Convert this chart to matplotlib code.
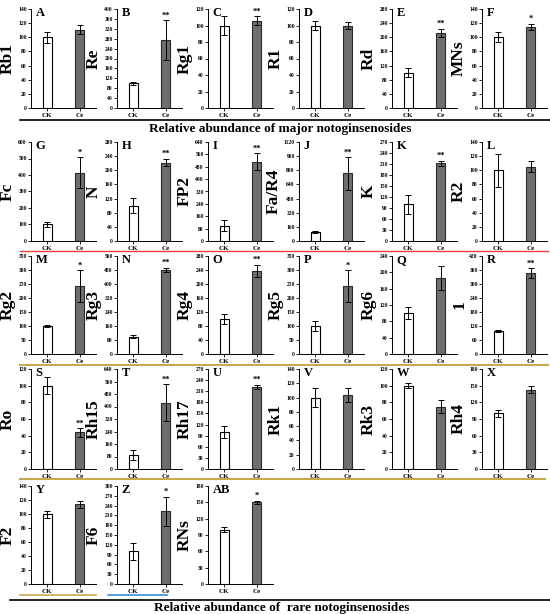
import matplotlib
matplotlib.use("Agg")
import matplotlib.pyplot as plt
from matplotlib.lines import Line2D
import numpy as np

plt.rcParams["font.family"] = ["Liberation Serif", "DejaVu Serif"]
plt.rcParams["font.weight"] = "bold"

# ── Data (relative abundance, CK = 100) ──────────────────────────────────────
panel_ids = ["A", "B", "C", "D", "E", "F",
             "G", "H", "I", "J", "K", "L",
             "M", "N", "O", "P", "Q", "R",
             "S", "T", "U", "V", "W", "X",
             "Y", "Z", "AB"]
compounds = ["Rb1", "Re", "Rg1", "R1", "Rd", "MNs",
             "Fc", "N", "FP2", "Fa/R4", "K", "R2",
             "Rg2", "Rg3", "Rg4", "Rg5", "Rg6", "1",
             "Ro", "Rh15", "Rh17", "Rk1", "Rk3", "Rh4",
             "F2", "F6", "RNs"]
groups = ["CK", "Ce"]
ck_mean = [100, 100, 100, 100, 100, 100,
           100, 100, 100, 100, 100, 100,
           100, 100, 100, 100, 100, 100,
           100, 92, 100, 100, 100, 100,
           100, 100, 100]
ck_err = [8, 7, 11, 6, 13, 7,
          15, 22, 36, 15, 26, 23,
          5, 10, 15, 17, 15, 5,
          10, 32, 15, 13, 3, 6,
          5, 25, 4]
ce_mean = [111, 275, 106, 100, 212, 115,
           415, 222, 512, 766, 212, 105,
           243, 480, 237, 243, 186, 347,
           44, 425, 222, 104, 75, 143,
           114, 222, 150]
ce_err = [6, 80, 5, 4, 12, 4,
          92, 10, 54, 184, 7, 8,
          57, 12, 18, 57, 30, 20,
          5, 118, 5, 10, 8, 7,
          5, 45, 3]
signif = ["", "**", "**", "", "**", "*",
          "*", "**", "**", "**", "**", "",
          "*", "**", "**", "*", "", "**",
          "**", "**", "**", "", "", "",
          "", "*", "*"]
y_max = [140, 400, 120, 120, 280, 140,
         600, 280, 640, 1120, 270, 140,
         350, 560, 280, 350, 240, 420,
         120, 640, 270, 140, 120, 180,
         140, 300, 180]
y_step = [20, 40, 20, 20, 40, 20,
          100, 40, 80, 160, 30, 20,
          50, 80, 40, 50, 40, 60,
          20, 80, 30, 20, 20, 30,
          20, 30, 30]

W, H = 550, 614
fig = plt.figure(figsize=(W / 100, H / 100), dpi=100)

col_left = [31, 117, 208, 299, 392, 482]
row_top = [9, 142, 256, 369, 486]
row_bottom = [108, 241, 354, 469, 584]
ax_w = 65


def px_axes(left, top, width, height):
    return fig.add_axes([left / W, 1 - (top + height) / H, width / W, height / H])


for i, name in enumerate(compounds):
    r, c = divmod(i, 6)
    ax = px_axes(col_left[c], row_top[r], ax_w, row_bottom[r] - row_top[r])
    x = np.arange(len(groups))
    ax.bar(x[0], ck_mean[i], 0.28, color="white", edgecolor="black", linewidth=0.8)
    ax.bar(x[1], ce_mean[i], 0.28, color="#6e6e6e", edgecolor="#2a2a2a", linewidth=0.8)
    ax.errorbar(x, [ck_mean[i], ce_mean[i]], yerr=[ck_err[i], ce_err[i]],
                fmt="none", ecolor="black", elinewidth=0.7, capsize=2.5, capthick=0.7)
    if signif[i]:
        ax.annotate(signif[i], (x[1], ce_mean[i] + ce_err[i]), xytext=(0, 0.5),
                    textcoords="offset points", ha="center", va="bottom",
                    fontsize=6, fontweight="bold")
    ax.set_xlim(-0.5, 1.5)
    ax.set_ylim(0, y_max[i])
    ax.set_yticks(np.arange(0, y_max[i] + 1, y_step[i]))
    ax.set_xticks(x)
    ax.set_xticklabels(groups, fontsize=5, fontweight="bold")
    ax.tick_params(axis="y", labelsize=4, length=2, width=0.6, pad=1)
    ax.tick_params(axis="x", length=2, width=0.6, pad=1.5)
    for s in ["top", "right"]:
        ax.spines[s].set_visible(False)
    for s in ["left", "bottom"]:
        ax.spines[s].set_linewidth(0.7)
    # keep the name clear of the tick labels
    ndig = len(str(y_max[i]))
    ax.set_ylabel(name, fontsize=12.5, fontweight="bold")
    ax.yaxis.set_label_coords(-(6.5 + 2.8 * ndig) / ax_w, 0.5)
    ax.text(0.07, 1.02, panel_ids[i], transform=ax.transAxes, ha="left", va="top",
            fontsize=9, fontweight="bold")


def hline(y, x0, x1, color, lw):
    fig.add_artist(Line2D([x0 / W, x1 / W], [1 - y / H, 1 - y / H],
                          color=color, linewidth=lw))


hline(120, 20, 550, "black", 1.2)
hline(251, 20, 548, "#e8413c", 1.0)
hline(365, 20, 548, "#c9a94e", 1.5)
hline(479, 20, 545, "#c9a94e", 1.5)
hline(595, 20, 96, "#c9a94e", 1.2)
hline(595, 108, 167, "#3a8ee0", 1.2)
hline(600, 10, 550, "black", 1.2)

fig.text(280 / W, 1 - 129 / H, "Relative abundance of major notoginsenosides",
         ha="center", va="center", fontsize=9.5, fontweight="bold")
fig.text(282 / W, 1 - 608 / H, "Relative abundance of  rare notoginsenosides",
         ha="center", va="center", fontsize=9.5, fontweight="bold")

fig.savefig("out.png", dpi=100)
